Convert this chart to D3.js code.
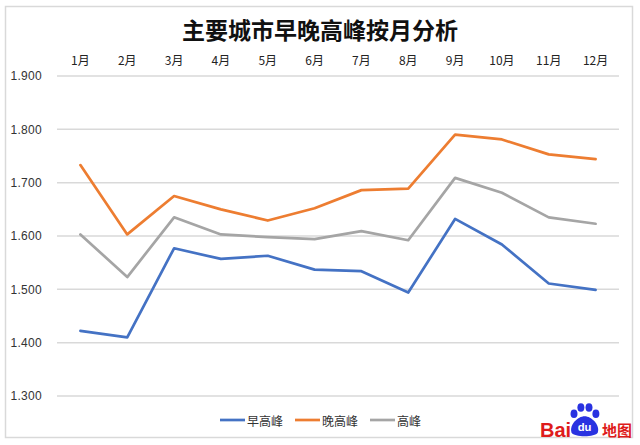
<!DOCTYPE html>
<html><head><meta charset="utf-8">
<script src="https://cdn.jsdelivr.net/npm/d3@7"></script>
<style>
html,body{margin:0;padding:0;background:#fff;}
svg{display:block;font-family:"Noto Sans CJK SC","Noto Sans",sans-serif;}
</style></head>
<body><svg id="c" width="640" height="445"></svg>
<script>
const months = ["1月","2月","3月","4月","5月","6月","7月","8月","9月","10月","11月","12月"];
const morningPeak = [1.422,1.410,1.577,1.557,1.563,1.537,1.534,1.494,1.632,1.584,1.511,1.499];
const eveningPeak = [1.733,1.603,1.675,1.650,1.629,1.652,1.686,1.689,1.790,1.781,1.753,1.744];
const overallPeak = [1.603,1.523,1.635,1.603,1.598,1.594,1.609,1.592,1.709,1.681,1.635,1.623];
const seriesNames = ["早高峰","晚高峰","高峰"];
const yTicks = [1.3,1.4,1.5,1.6,1.7,1.8,1.9];
const title = "主要城市早晚高峰按月分析";

const series = [
  {name: seriesNames[0], values: morningPeak, color: "#4472C4"},
  {name: seriesNames[1], values: eveningPeak, color: "#ED7D31"},
  {name: seriesNames[2], values: overallPeak, color: "#A5A5A5"}
];

const svg = d3.select("#c");
// frame
svg.append("rect").attr("x",5.5).attr("y",6.5).attr("width",627).attr("height",431)
  .attr("fill","#fff").attr("stroke","#d9d9d9").attr("stroke-width",1.5);

const x = d3.scaleBand().domain(months).range([57,619]);
const y = d3.scaleLinear().domain([1.3,1.9]).range([396,76]);

// title
svg.append("text").attr("x",320).attr("y",39).attr("text-anchor","middle")
  .attr("font-size",23).attr("font-weight","bold").attr("fill","#111").text(title);

// gridlines
svg.append("g").selectAll("line").data(yTicks).join("line")
  .attr("x1",57).attr("x2",619).attr("y1",d=>y(d)).attr("y2",d=>y(d))
  .attr("stroke","#d9d9d9").attr("stroke-width",1.5);

// y axis labels
const yAxis = d3.axisLeft(y).tickValues(yTicks).tickFormat(d3.format(".3f")).tickSize(0).tickPadding(0);
const ga = svg.append("g").attr("transform","translate(42,0)").call(yAxis);
ga.select(".domain").remove();
ga.selectAll("text").attr("font-size",12).attr("fill","#333")
  .attr("font-family","'Liberation Sans',Arial,sans-serif").attr("letter-spacing","0.3px");

// x axis labels on top
const xAxis = d3.axisTop(x).tickSize(0).tickPadding(0);
const gx = svg.append("g").attr("transform","translate(0,65)").call(xAxis);
gx.select(".domain").remove();
gx.selectAll("text").attr("font-size",12).attr("fill","#222")
  .attr("font-family","'Noto Sans CJK SC',sans-serif");

// lines
const line = d3.line().x((d,i)=>x(months[i])+x.bandwidth()/2).y(d=>y(d));
svg.append("g").selectAll("path").data([series[2],series[1],series[0]]).join("path")
  .attr("d",d=>line(d.values)).attr("fill","none").attr("stroke",d=>d.color)
  .attr("stroke-width",2.7).attr("stroke-linejoin","round").attr("stroke-linecap","round");

// legend
const legX = [220,295,370];
const lg = svg.append("g").selectAll("g").data(series).join("g")
  .attr("transform",(d,i)=>`translate(${legX[i]},420)`);
lg.append("line").attr("x1",0).attr("x2",25).attr("stroke",d=>d.color).attr("stroke-width",2.7);
lg.append("text").attr("x",27).attr("y",0).attr("dominant-baseline","central")
  .attr("font-size",12).attr("fill","#333").text(d=>d.name);

// Baidu logo
const logo = svg.append("g").attr("transform","translate(540,437)");
logo.append("text").attr("x",0).attr("y",0).attr("font-family","'Liberation Sans',Arial,sans-serif")
  .attr("font-weight","bold").attr("font-size",20).attr("fill","#de1b1b").text("Bai");
const paw = logo.append("g").attr("transform","translate(44,-12) scale(1.25)");
[[-8,-9,2.8,3.4],[-2.5,-14,2.8,3.4],[4,-14,2.8,3.4],[9.5,-9,2.8,3.4]].forEach(p=>{
  paw.append("ellipse").attr("cx",p[0]).attr("cy",p[1]).attr("rx",p[2]).attr("ry",p[3]).attr("fill","#2932e1");
});
paw.append("path").attr("d","M-10,6 C-12,0 -5,-7 0.5,-7 C6,-7 13,0 11,6 C9,10 -8,10 -10,6 Z").attr("fill","#2932e1");
paw.append("text").attr("x",0.5).attr("y",5).attr("text-anchor","middle")
  .attr("font-family","'Liberation Sans',Arial,sans-serif").attr("font-weight","bold")
  .attr("font-size",9).attr("fill","#fff").text("du");
logo.append("text").attr("x",62).attr("y",-1).attr("font-size",15).attr("font-weight","bold")
  .attr("fill","#de1b1b").text("地图");
</script></body></html>
